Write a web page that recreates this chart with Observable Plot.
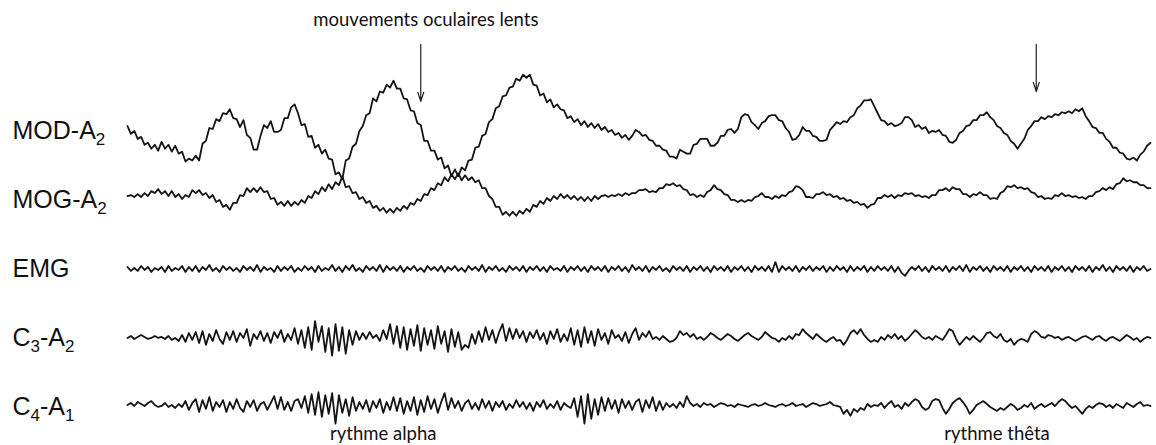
<!DOCTYPE html>
<html>
<head>
<meta charset="utf-8">
<script src="https://cdn.jsdelivr.net/npm/d3@7"></script>
<script src="https://cdn.jsdelivr.net/npm/@observablehq/plot@0.6"></script>
<style>
  html, body { margin: 0; padding: 0; background: #fff; }
  #chart svg { display: block; }
</style>
</head>
<body>
<div id="chart"></div>
<script>
// Sampling interval (seconds) of every trace below
const dt = 0.1;

// Channel names (order top to bottom)
const channels = ["MOD-A2", "MOG-A2", "EMG", "C3-A2", "C4-A1"];

// Label pieces: [text, isSubscript]
const labelParts = {
  "MOD-A2": [["MOD-A", false], ["2", true]],
  "MOG-A2": [["MOG-A", false], ["2", true]],
  "EMG": [["EMG", false]],
  "C3-A2": [["C", false], ["3", true], ["-A", false], ["2", true]],
  "C4-A1": [["C", false], ["4", true], ["-A", false], ["1", true]]
};

// Amplitudes (arbitrary units), one value every dt
const modA2 = [
  3,-5,-2,-10,-8,-16,-14,-20,-16,-22,
  -13,-20,-16,-23,-17,-25,-23,-33,-30,-32,
  -27,-32,-15,-12,1,0,10,8,16,15,
  20,11,10,2,9,-6,-9,-21,-21,-7,
  4,1,8,-3,-3,-1,11,11,22,25,
  16,4,5,-8,-7,-19,-16,-25,-21,-30,
  -31,-46,-44,-51,-32,-30,-18,-15,-2,3,
  14,16,31,28,38,37,45,42,49,41,
  41,31,30,19,18,6,4,-12,-12,-22,
  -22,-31,-29,-40,-37,-48,-41,-48,-39,-42,
  -32,-31,-19,-18,-7,-5,7,10,21,23,
  33,34,42,43,51,49,55,52,55,45,
  44,34,36,27,30,22,25,20,19,11,
  13,7,10,4,8,2,6,1,5,-1,
  2,-3,-1,-6,-4,-9,-6,-11,-7,-1,
  -3,-7,-6,-11,-12,-17,-17,-21,-22,-28,
  -28,-30,-21,-23,-25,-25,-16,-15,-10,-10,
  -10,-17,-17,-14,-7,-7,-1,0,-4,0,
  12,15,14,7,4,0,6,8,13,14,
  14,9,8,1,-3,-11,-10,-6,2,-2,
  -2,-7,-8,-12,-12,-11,-1,3,7,5,
  8,7,12,14,21,24,29,29,30,23,
  16,9,8,4,6,3,4,6,12,12,
  9,2,4,0,2,-4,-2,-3,-1,-6,
  -7,-13,-14,-11,-4,-2,3,4,9,9,
  14,14,17,12,9,3,1,-4,-6,-12,
  -15,-20,-15,-10,-1,3,8,8,12,10,
  13,12,15,14,17,16,18,16,20,18,
  21,13,8,2,1,-4,-4,-10,-13,-19,
  -19,-24,-25,-30,-31,-29,-32,-26,-23,-17,
  -14
];

const mogA2 = [
  2,3,1,4,1,5,2,7,5,9,
  4,7,2,7,1,4,-1,3,1,8,
  5,8,3,5,0,3,-4,-2,-9,-7,
  -12,-5,-5,3,2,10,6,10,6,11,
  6,7,-1,0,-7,-4,-8,-3,-8,-4,
  -7,-2,-5,2,0,7,4,11,7,14,
  9,16,13,22,11,12,5,6,-1,1,
  -5,-3,-10,-8,-13,-10,-15,-11,-15,-10,
  -13,-8,-11,-5,-7,-1,-3,4,3,10,
  8,15,13,21,17,24,19,25,18,23,
  18,21,16,18,10,10,2,-1,-9,-9,
  -17,-14,-18,-14,-18,-13,-16,-11,-14,-7,
  -9,-3,-6,0,-3,2,-1,4,0,3,
  -1,2,-2,1,-3,1,-3,2,-1,2,
  3,1,3,2,4,2,5,3,5,5,
  8,8,9,6,7,6,10,10,14,13,
  15,12,13,9,8,3,4,1,3,1,
  6,8,13,9,8,4,3,-2,-2,-4,
  -2,-4,-2,-3,1,2,5,1,1,-1,
  2,0,3,2,6,7,12,11,8,1,
  1,0,4,4,6,3,4,1,2,-1,
  0,-3,-2,-5,-4,-7,-6,-10,-7,-6,
  0,0,3,1,3,0,3,2,5,4,
  5,2,3,1,2,0,3,3,8,8,
  10,7,11,9,9,4,4,1,4,3,
  6,3,3,-1,0,-1,5,7,12,11,
  13,10,11,9,10,6,5,1,2,-1,
  0,-1,3,2,5,2,3,1,2,0,
  1,-1,2,2,6,7,10,8,11,9,
  14,15,20,17,18,16,16,13,13,10,
  10
];

const emg = [
  0,-4,-1,-4,1,-3,0,-5,-1,-3,
  0,-5,1,-4,-1,-3,1,-5,0,-4,
  1,-5,0,-3,2,-4,-1,-5,1,-3,
  0,-4,-1,-5,1,-3,0,-4,2,-5,
  0,-3,-1,-5,1,-4,0,-3,1,-5,
  -1,-4,1,-3,0,-5,1,-4,-1,-3,
  2,-4,0,-5,1,-3,2,-4,-1,-5,
  1,-3,0,-4,2,-5,1,-3,0,-4,
  1,-5,0,-3,1,-4,-1,-5,1,-3,
  0,-4,1,-5,0,-3,1,-4,-1,-5,
  1,-3,0,-4,2,-5,0,-3,1,-4,
  -1,-5,1,-3,0,-4,1,-5,0,-3,
  1,-4,0,-5,1,-3,-1,-4,1,-5,
  0,-3,1,-4,0,-5,1,-3,0,-4,
  1,-5,0,-3,1,-4,0,-5,2,-3,
  0,-4,1,-5,0,-3,1,-4,-1,-5,
  1,-3,0,-4,1,-5,0,-3,1,-4,
  0,-5,1,-3,0,-4,1,-5,0,-3,
  1,-4,0,-5,1,-3,0,-4,1,-5,
  5,-5,1,-3,0,-4,1,-5,0,-3,
  1,-4,0,-3,1,-5,0,-4,1,-3,
  0,-5,1,-4,0,-3,1,-5,0,-4,
  1,-3,0,-4,1,-5,0,-6,-9,-4,
  0,-3,1,-4,0,-5,1,-3,0,-4,
  1,-5,0,-3,1,-4,2,-5,0,-3,
  1,-4,0,-5,1,-3,0,-4,1,-5,
  0,-3,1,-4,0,-5,1,-3,0,-4,
  1,-5,0,-3,1,-4,0,-5,1,-3,
  0,-4,1,-5,0,-3,2,-4,0,-5,
  1,-3,0,-4,1,-5,0,-3,1,-4,
  -2
];

const c3A2 = [
  -2,0,-3,-1,1,-1,-3,-2,0,-2,
  -1,-3,0,-4,-2,-5,1,-6,3,-4,
  4,-7,5,-9,2,-5,6,-3,-8,4,
  -4,5,-6,3,-2,7,-10,2,-3,5,
  -5,3,-7,4,-2,6,-6,2,-4,8,
  -8,6,-12,9,-14,15,-6,10,-16,8,
  -20,12,-15,9,-18,6,-9,5,-4,3,
  -3,4,-2,1,-5,6,-3,12,-8,10,
  -12,9,-14,7,-10,11,-15,8,-9,6,
  -13,10,-8,5,-16,7,-11,4,-14,-9,
  -12,2,-8,5,-6,9,-4,6,-7,4,
  12,-5,8,-3,7,-2,5,-6,4,-2,
  6,-4,3,-8,5,-3,7,-6,2,-5,
  8,-9,6,-11,9,-7,5,-10,7,-4,
  3,-8,6,-2,1,-5,4,-7,2,8,
  -4,3,-1,5,-3,-1,-4,0,-3,-6,
  -5,-2,5,1,3,-1,2,-3,-1,-4,
  -1,3,1,-2,-4,-1,2,0,-3,-5,
  -2,1,3,0,-2,-4,-1,4,1,-2,
  -3,-6,-2,-4,0,-3,2,1,7,3,
  0,-3,2,-1,-4,-6,-3,-1,-5,-4,
  -9,-4,3,6,2,7,1,-3,-6,-4,
  -6,-1,-4,1,-2,2,-3,0,-5,-2,
  2,6,3,-1,-3,-1,-4,0,-2,-4,
  1,7,5,-3,-9,-5,-1,-4,0,-3,
  -6,-2,3,4,0,-2,2,-4,-6,-3,
  -9,-5,-3,-4,-6,2,5,3,-1,-2,
  1,0,-2,-1,-4,-2,-1,-3,-5,-3,
  -1,0,-2,-4,-1,0,-3,-5,-2,-1,
  -3,-5,-2,1,-1,-4,-2,-6,-3,-1,
  -2
];

const c4A1 = [
  0,2,-1,3,1,-1,2,4,0,-2,
  -1,2,-2,0,-3,1,-2,4,-5,2,
  6,-7,5,-4,8,-6,3,-2,5,-7,
  3,-4,6,-3,-7,4,-2,5,-6,1,
  3,-5,2,9,-4,8,-5,3,-6,4,
  6,-3,9,-8,11,-10,13,-12,10,-9,
  12,-19,10,-8,6,-11,8,-6,3,-4,
  5,-7,4,-3,6,-8,3,-5,8,-6,
  7,-9,4,-6,8,-10,5,-7,9,-4,
  6,-8,3,12,-5,7,-3,4,-6,2,
  5,-4,2,-5,6,-3,4,-6,3,-2,
  4,-5,1,-3,5,-2,3,-4,2,-6,
  3,-2,5,-4,1,-3,4,-5,2,-1,
  -3,7,-12,9,-19,11,-14,6,-10,8,
  -6,7,-4,5,-8,6,-3,4,-5,3,
  6,-7,5,-3,8,-6,4,-5,2,-2,
  1,-3,3,-2,9,2,-1,1,-2,2,
  0,1,-2,0,2,1,-1,0,-2,1,
  0,-1,-2,0,1,-1,0,2,0,-1,
  -2,0,1,-1,0,2,-1,0,1,-2,
  0,2,1,-1,0,1,3,0,-1,-2,
  -9,-5,-11,-4,-7,-3,-5,1,-2,0,
  -1,2,-3,1,4,-2,0,-4,2,-1,
  3,6,4,-2,-5,-3,4,6,5,-3,
  -9,-4,2,5,7,3,-2,-9,-5,0,
  2,4,1,-2,-4,-6,-3,-5,-2,1,
  -1,-5,-3,0,-2,2,-4,-1,1,-2,
  0,2,-1,3,6,4,0,-3,-1,-5,
  -9,-4,-1,-3,0,2,1,-2,0,-3,
  1,-1,-3,2,0,-2,1,3,-1,0,
  -1
];

// Annotations: arrows (time, from, to) on the MOD-A2 channel
const arrowT = [8.6, 26.65];
const arrowFrom = [86, 86];
const arrowTo = [28, 38];

// Text notes: channel, time, amplitude, text
const noteChannel = ["MOD-A2", "C4-A1", "C4-A1"];
const noteT = [8.75, 7.5, 25.5];
const noteV = [111, -29, -29];
const noteText = ["mouvements oculaires lents", "rythme alpha", "rythme thêta"];

// Build tidy table from the arrays
const series = [modA2, mogA2, emg, c3A2, c4A1];
const traces = [];
series.forEach((vals, k) => vals.forEach((v, i) => traces.push({channel: channels[k], t: +(i * dt).toFixed(2), v})));
const arrows = arrowT.map((t, i) => ({channel: "MOD-A2", t, v1: arrowFrom[i], v2: arrowTo[i]}));
const notes = noteText.map((text, i) => ({channel: noteChannel[i], t: noteT[i], v: noteV[i], text}));

const svg = Plot.plot({
  width: 1156,
  height: 445,
  marginLeft: 127,
  marginRight: 6,
  marginTop: 93,
  marginBottom: 6,
  style: {fontFamily: "'Liberation Sans', Arial, sans-serif", background: "#fff", color: "#111"},
  x: {domain: [0, 30], axis: null},
  y: {domain: [-35, 35], axis: null},
  fy: {domain: channels, padding: 0, axis: null},
  marks: [
    Plot.line(traces, {x: "t", y: "v", fy: "channel", z: "channel", stroke: "#141414", strokeWidth: 1.8, strokeLinejoin: "round"}),
    Plot.arrow(arrows, {x: "t", y1: "v1", y2: "v2", fy: "channel", stroke: "#222", strokeWidth: 1.2, headLength: 12, headAngle: 36}),
    Plot.text(notes, {x: "t", y: "v", fy: "channel", text: "text", fontFamily: "Lato, 'Open Sans', sans-serif", fontSize: 18.5, fill: "#111"}),
    Plot.text(channels, {fy: d => d, text: d => d, frameAnchor: "left", textAnchor: "start", dx: -115, dy: 2, fontSize: 25, fill: "#111"})
  ]
});

// Render subscripts in the channel labels
svg.querySelectorAll("text").forEach(t => {
  const parts = labelParts[t.textContent];
  if (!parts) return;
  while (t.firstChild) t.removeChild(t.firstChild);
  let shifted = false;
  parts.forEach(([s, sub]) => {
    const ts = document.createElementNS("http://www.w3.org/2000/svg", "tspan");
    ts.textContent = s;
    if (sub) { ts.setAttribute("font-size", "17"); if (!shifted) { ts.setAttribute("dy", "6"); shifted = true; } }
    else if (shifted) { ts.setAttribute("dy", "-6"); shifted = false; }
    t.appendChild(ts);
  });
});

document.getElementById("chart").appendChild(svg);
</script>
</body>
</html>
